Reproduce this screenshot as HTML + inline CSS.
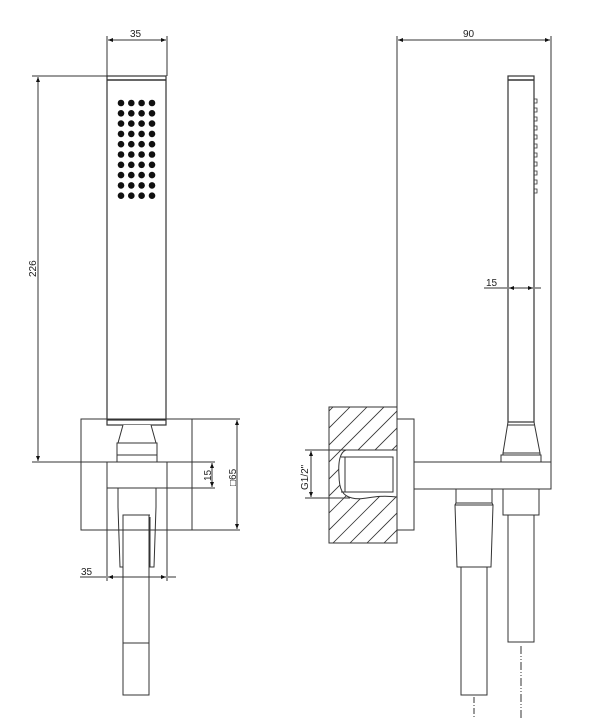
<!DOCTYPE html>
<html><head><meta charset="utf-8"><style>
html,body{margin:0;padding:0;background:#fff}
svg{display:block}
text{font-family:"Liberation Sans",sans-serif;font-size:10px;fill:#222}
</style></head><body>
<svg width="600" height="719" viewBox="0 0 600 719" xmlns="http://www.w3.org/2000/svg">
<defs>
<marker id="a" viewBox="0 0 10 10" refX="10" refY="5" markerWidth="7" markerHeight="5" orient="auto-start-reverse"><path d="M0,1 L10,5 L0,9z" fill="#111"/></marker>
<clipPath id="blk"><rect x="329" y="407" width="68" height="136"/></clipPath>
</defs>
<g stroke="#333" stroke-width="1" fill="none">
<!-- LEFT VIEW -->
<!-- top dim 35 -->
<line x1="107" y1="36" x2="107" y2="76"/><line x1="167" y1="36" x2="167" y2="76"/>
<line x1="108" y1="40" x2="166" y2="40" marker-start="url(#a)" marker-end="url(#a)"/>
<!-- 226 -->
<line x1="32" y1="76" x2="107" y2="76"/>
<line x1="32" y1="462" x2="215" y2="462"/>
<line x1="38" y1="77" x2="38" y2="461" marker-start="url(#a)" marker-end="url(#a)"/>
<!-- handle -->
<rect x="107" y="76" width="59" height="349" stroke-width="1.2"/>
<line x1="107" y1="80" x2="166" y2="80" stroke-width="1.5"/>
<line x1="107" y1="420" x2="166" y2="420" stroke-width="1.2"/>
<!-- wall plate -->
<rect x="81" y="419" width="111" height="111"/>
<line x1="192" y1="419" x2="240" y2="419"/><line x1="192" y1="530" x2="240" y2="530"/>
<line x1="237" y1="420" x2="237" y2="529" marker-start="url(#a)" marker-end="url(#a)"/>
<!-- cone -->
<path d="M123,425 L118,443 L156,443 L151,425" fill="#fff"/>
<rect x="117" y="443" width="40" height="12" fill="#fff"/>
<rect x="117" y="455" width="40" height="7" fill="#fff"/>
<rect x="107" y="462" width="60" height="26" fill="#fff"/>
<line x1="167" y1="488" x2="215" y2="488"/>
<line x1="212" y1="463" x2="212" y2="487" marker-start="url(#a)" marker-end="url(#a)"/>
<line x1="107" y1="488" x2="107" y2="581"/><line x1="167" y1="488" x2="167" y2="581"/>
<!-- bracket -->
<path d="M118,488 L118,507 L120,567 L123,567 L123,517"/>
<path d="M156,488 L156,507 L154,567 L150,567 L150,517"/>
<line x1="123" y1="515" x2="150" y2="515"/>
<!-- hose -->
<rect x="123" y="515" width="26" height="180"/>
<line x1="123" y1="643" x2="149" y2="643"/>
<line x1="80" y1="577" x2="106" y2="577"/>
<line x1="108" y1="577" x2="166" y2="577" marker-start="url(#a)" marker-end="url(#a)"/>
<line x1="168" y1="577" x2="176" y2="577"/>
<!-- RIGHT VIEW -->
<line x1="397" y1="36" x2="397" y2="407"/><line x1="551" y1="36" x2="551" y2="462"/>
<line x1="398" y1="40" x2="550" y2="40" marker-start="url(#a)" marker-end="url(#a)"/>
<rect x="508" y="76" width="26" height="346" stroke-width="1.2"/>
<line x1="508" y1="80" x2="534" y2="80" stroke-width="1.5"/>
<line x1="484" y1="288" x2="507" y2="288"/>
<line x1="509" y1="288" x2="533" y2="288" marker-start="url(#a)" marker-end="url(#a)"/>
<line x1="535" y1="288" x2="541" y2="288"/>
<path d="M508,422 L503,453 L540,453 L534,422"/>
<line x1="508" y1="425" x2="534" y2="425"/>
<rect x="501" y="455" width="40" height="7"/>
<line x1="503" y1="453" x2="503" y2="455"/><line x1="540" y1="453" x2="540" y2="455"/>
<rect x="414" y="462" width="137" height="27"/>
<rect x="503" y="489" width="36" height="26"/>
<rect x="508" y="515" width="26" height="127"/>
<line x1="521" y1="646" x2="521" y2="719" stroke-dasharray="8,2,1,2,1,2"/>
<rect x="456" y="489" width="36" height="14"/>
<path d="M455,505 L493,505 L491,567 L457,567 Z"/>
<line x1="456" y1="503" x2="455" y2="505"/><line x1="492" y1="503" x2="493" y2="505"/>
<rect x="461" y="567" width="26" height="128"/>
<line x1="474" y1="697" x2="474" y2="719" stroke-dasharray="6,2,1,2"/>
<!-- block -->
<g clip-path="url(#blk)" stroke-width="0.8">
<line x1="300" y1="440" x2="380" y2="360"/>
<line x1="300" y1="457" x2="400" y2="357"/>
<line x1="300" y1="474" x2="420" y2="354"/>
<line x1="300" y1="491" x2="440" y2="351"/>
<line x1="300" y1="508" x2="460" y2="348"/>
<line x1="300" y1="525" x2="480" y2="345"/>
<line x1="300" y1="542" x2="480" y2="362"/>
<line x1="300" y1="559" x2="480" y2="379"/>
<line x1="300" y1="576" x2="480" y2="396"/>
<line x1="300" y1="593" x2="480" y2="413"/>
<line x1="300" y1="610" x2="480" y2="430"/>
<line x1="300" y1="627" x2="480" y2="447"/>
<line x1="300" y1="644" x2="480" y2="464"/>
</g>
<path d="M397,450 L346,450 C340,452 338,462 339,475 C339,490 343,496 352,498 C365,501 372,494 397,497" fill="#fff"/>
<rect x="345" y="457" width="48" height="35" fill="#fff"/>
<line x1="341" y1="457" x2="345" y2="457"/><line x1="341" y1="492" x2="345" y2="492"/>
<rect x="329" y="407" width="68" height="136"/>
<rect x="397" y="419" width="17" height="111"/>
<line x1="305" y1="450" x2="346" y2="450"/>
<line x1="305" y1="498" x2="350" y2="498"/>
<line x1="311" y1="451" x2="311" y2="497" marker-start="url(#a)" marker-end="url(#a)"/>
</g>
<!-- nozzle dots -->
<g fill="#111">
<g id="r"><circle cx="121" cy="103" r="3.3"/><circle cx="131.3" cy="103" r="3.3"/><circle cx="141.6" cy="103" r="3.3"/><circle cx="152" cy="103" r="3.3"/></g>
<use href="#r" y="10.3"/><use href="#r" y="20.6"/><use href="#r" y="30.9"/><use href="#r" y="41.2"/><use href="#r" y="51.5"/><use href="#r" y="61.8"/><use href="#r" y="72.1"/><use href="#r" y="82.4"/><use href="#r" y="92.7"/>
</g>
<g fill="none" stroke="#333" stroke-width="0.8">
<path d="M534,99 h3 v4 h-3 M534,108 h3 v4 h-3 M534,117 h3 v4 h-3 M534,126 h3 v4 h-3 M534,135 h3 v4 h-3 M534,144 h3 v4 h-3 M534,153 h3 v4 h-3 M534,162 h3 v4 h-3 M534,171 h3 v4 h-3 M534,180 h3 v4 h-3 M534,189 h3 v4 h-3"/>
</g>
<text x="130" y="37">35</text>
<text x="463" y="37">90</text>
<text x="486" y="286">15</text>
<text x="81" y="575">35</text>
<text transform="translate(36,277) rotate(-90)">226</text>
<text transform="translate(211,481) rotate(-90)">15</text>
<text transform="translate(236,486) rotate(-90)">□65</text>
<text transform="translate(308,490) rotate(-90)">G1/2"</text>
</svg>
</body></html>
